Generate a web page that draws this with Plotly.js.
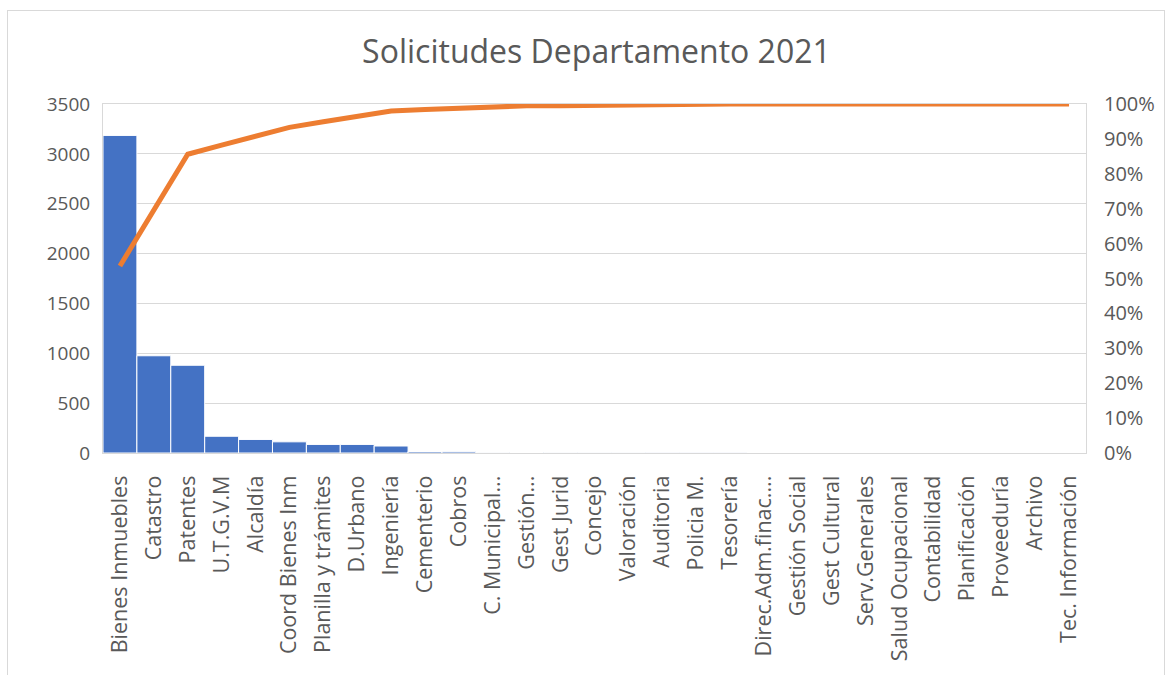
<!DOCTYPE html>
<html>
<head>
<meta charset="utf-8">
<script src="https://cdn.plot.ly/plotly-3.0.1.min.js"></script>
<style>
  html, body { margin: 0; padding: 0; background: #fff; }
  #wrap { position: relative; width: 1172px; height: 675px; }
  #chart { width: 1172px; height: 675px; }
  #frame { position: absolute; left: 7px; top: 10px; width: 1156px; height: 670px; border: 1px solid #D9D9D9; pointer-events: none; }
</style>
</head>
<body>
<div id="wrap">
  <div id="chart"></div>
  <div id="frame"></div>
</div>
<script>
const categories = [
  "Bienes Inmuebles", "Catastro", "Patentes", "U.T.G.V.M", "Alcaldía",
  "Coord Bienes Inm", "Planilla y trámites", "D.Urbano", "Ingeniería", "Cementerio",
  "Cobros", "C. Municipal...", "Gestión...", "Gest Jurid", "Concejo",
  "Valoración", "Auditoria", "Policia M.", "Tesorería", "Direc.Adm.finac....",
  "Gestión Social", "Gest Cultural", "Serv.Generales", "Salud Ocupacional", "Contabilidad",
  "Planificación", "Proveeduría", "Archivo", "Tec. Información"
];
const solicitudes = [
  3185, 975, 880, 168, 136,
  112, 86, 86, 70, 15,
  14, 6, 5, 4, 3,
  3, 2, 2, 2, 1,
  1, 1, 1, 1, 1,
  1, 1, 1, 1
];
const acumuladoPct = [
  53.6, 69.8, 85.6, 88.2, 90.8,
  93.3, 94.9, 96.5, 98.0, 98.4,
  98.8, 99.2, 99.5, 99.5, 99.6,
  100, 100, 100, 100, 100,
  100, 100, 100, 100, 100,
  100, 100, 100, 100
];
const leftTicks = [0, 500, 1000, 1500, 2000, 2500, 3000, 3500];
const rightTicks = [0, 10, 20, 30, 40, 50, 60, 70, 80, 90, 100];

const font = "'Open Sans', 'Segoe UI', sans-serif";
const grey = "#595959";

const traces = [
  {
    type: "bar",
    x: categories,
    y: solicitudes,
    marker: { color: "#4472C4", line: { color: "#ffffff", width: 1 } },
    hoverinfo: "x+y",
    showlegend: false
  },
  {
    type: "scatter",
    mode: "lines",
    x: categories,
    y: acumuladoPct,
    yaxis: "y2",
    line: { color: "#ED7D31", width: 5 },
    showlegend: false
  }
];

const layout = {
  width: 1172,
  height: 675,
  margin: { l: 103, r: 86, t: 104, b: 222 },
  paper_bgcolor: "#ffffff",
  plot_bgcolor: "#ffffff",
  bargap: 0,
  title: {
    text: "Solicitudes Departamento 2021",
    font: { family: font, size: 32, color: grey },
    x: 0.502, xref: "paper", xanchor: "center",
    y: 1 - 52 / 675, yref: "container", yanchor: "middle"
  },
  xaxis: {
    type: "category",
    tickangle: -90,
    tickfont: { family: font, size: 21.5, color: grey },
    showgrid: false,
    showline: true,
    linecolor: "#D9D9D9",
    linewidth: 1,
    mirror: true,
    ticks: "",
    ticklabelstandoff: 13
  },
  yaxis: {
    range: [0, 3500],
    tickvals: leftTicks,
    ticktext: leftTicks.map(String),
    tickfont: { family: font, size: 19, color: grey },
    gridcolor: "#D9D9D9",
    gridwidth: 1,
    zeroline: false,
    showline: true,
    linecolor: "#D9D9D9",
    mirror: true,
    ticks: "",
    ticklabelstandoff: 8
  },
  yaxis2: {
    overlaying: "y",
    side: "right",
    range: [0, 100],
    tickvals: rightTicks,
    ticktext: rightTicks.map(v => v + "%"),
    tickfont: { family: font, size: 20, color: grey },
    showgrid: false,
    zeroline: false,
    ticks: "",
    ticklabelstandoff: 17
  }
};

Plotly.newPlot("chart", traces, layout, { displayModeBar: false, staticPlot: true });
</script>
</body>
</html>
